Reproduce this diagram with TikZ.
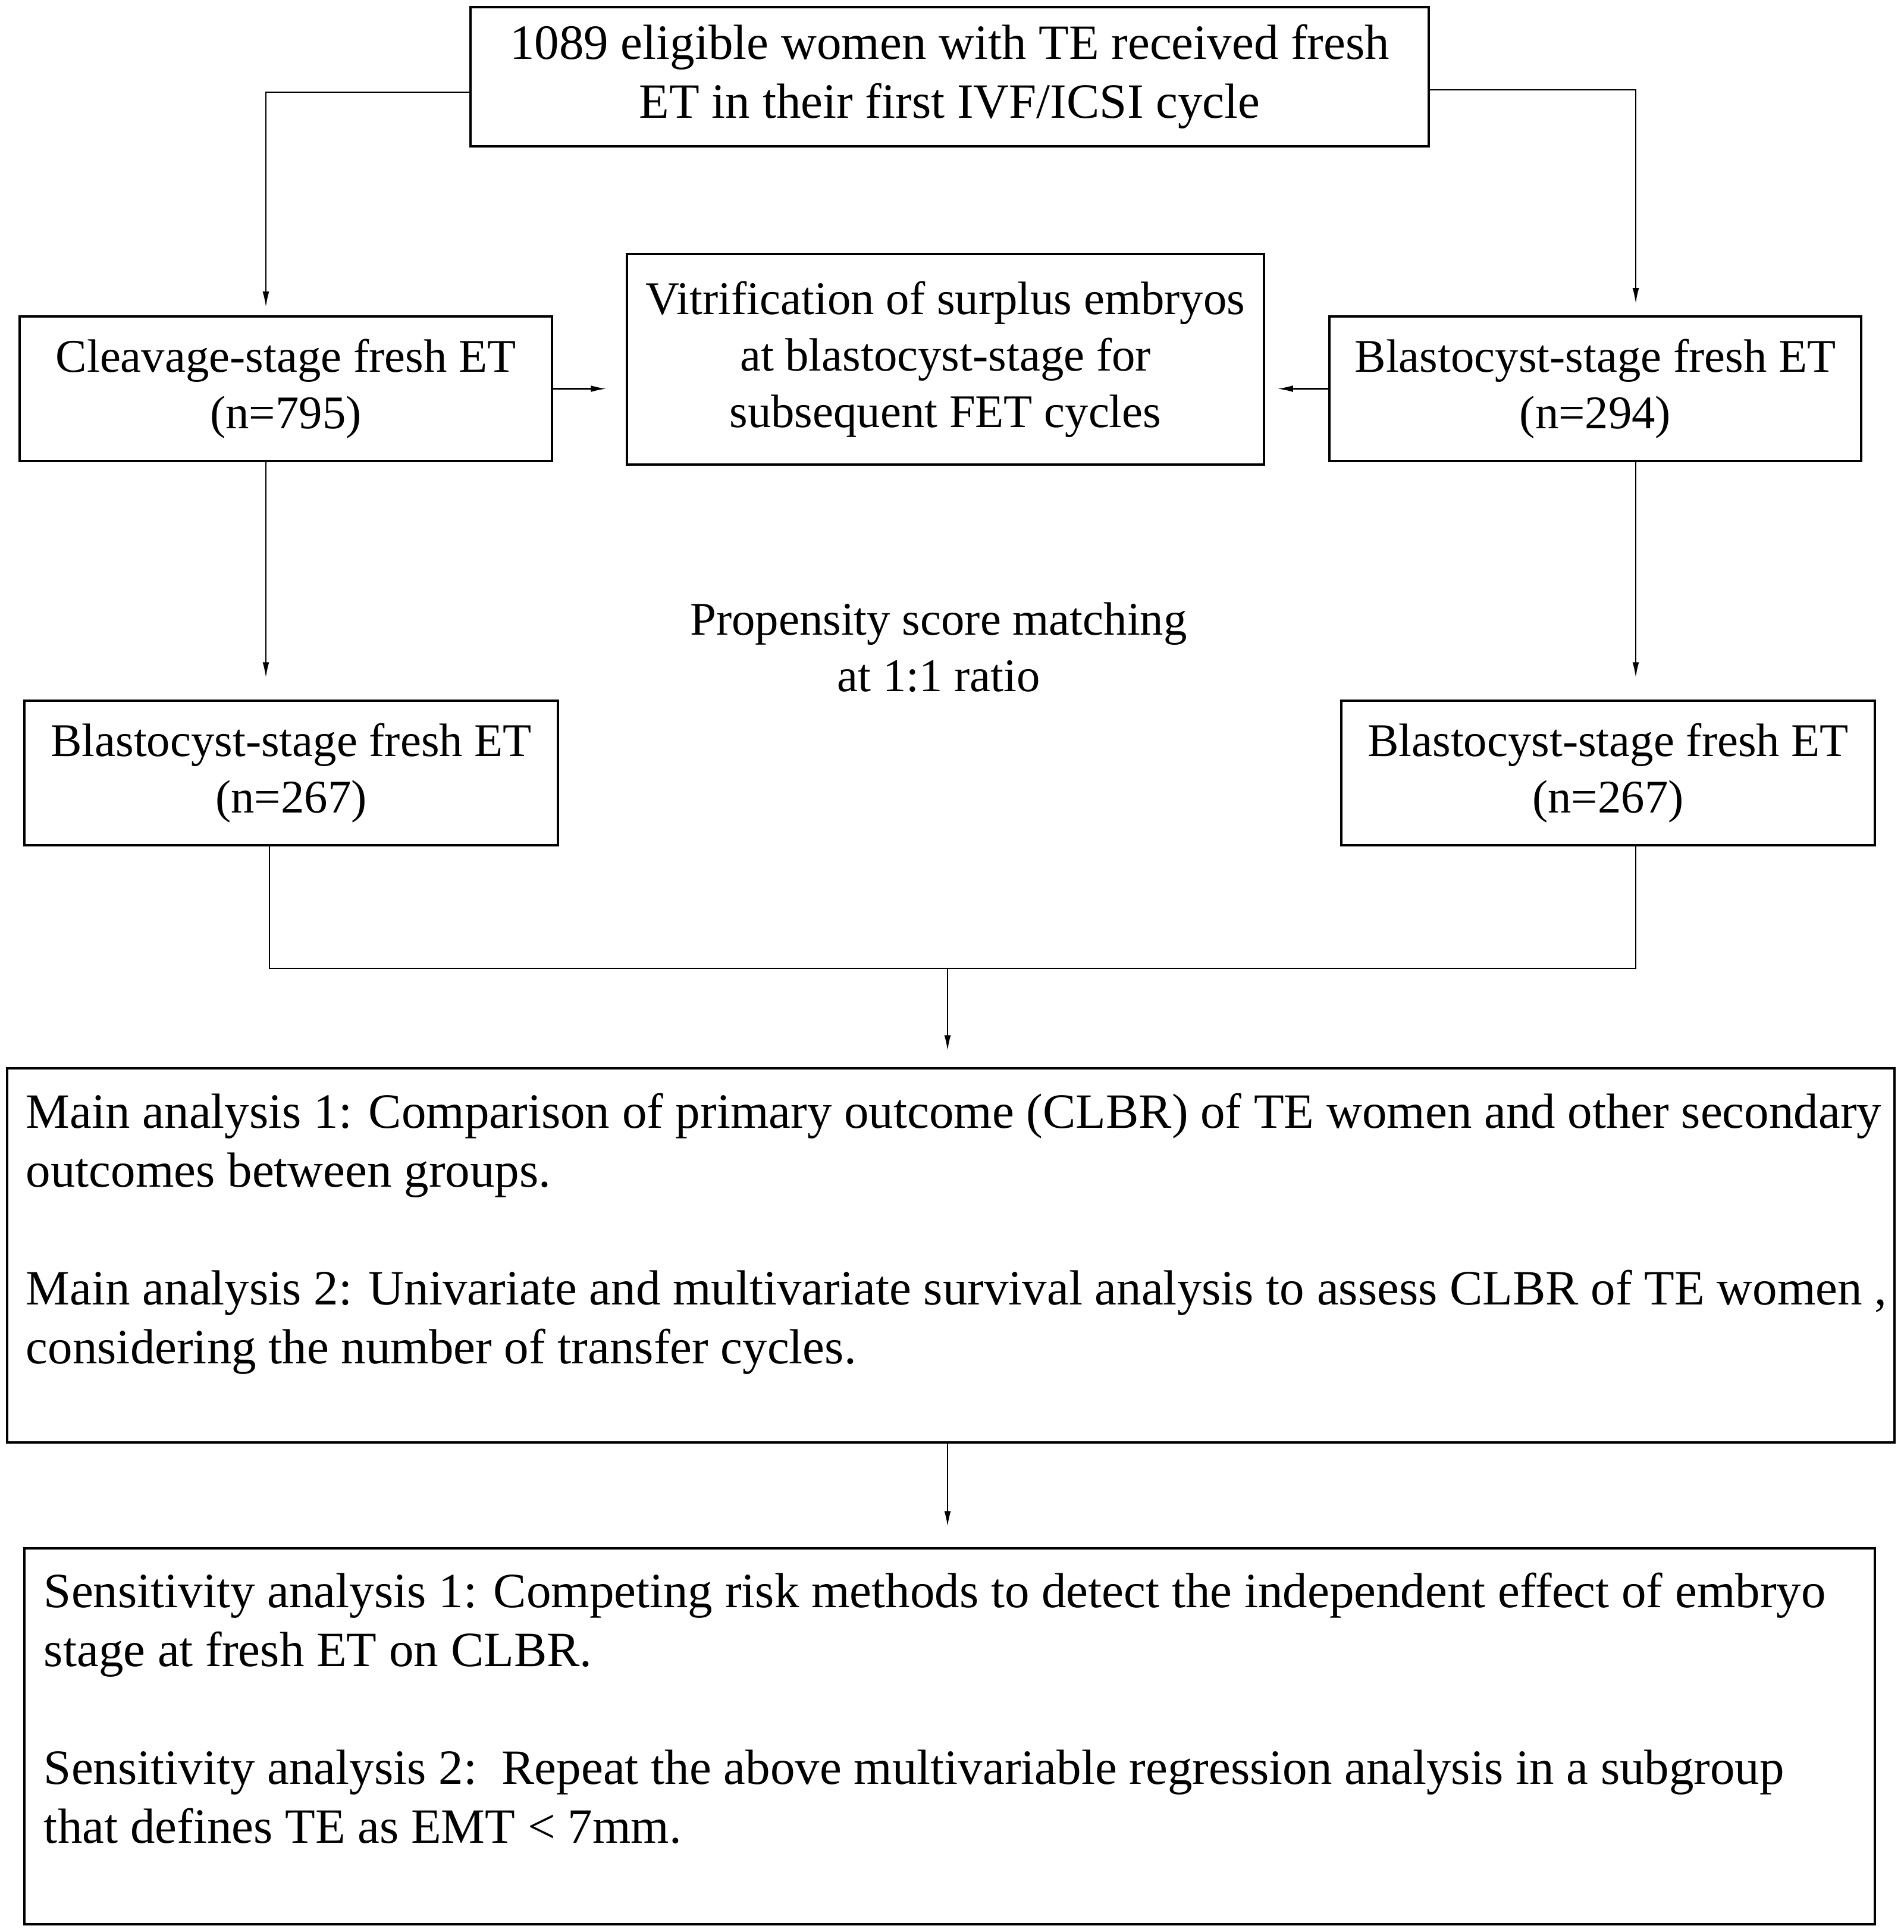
\documentclass[tikz,border=0pt]{standalone}
\usepackage{fontspec}
\setmainfont{Liberation Serif}
\usetikzlibrary{arrows.meta,positioning}
\begin{document}
\begin{tikzpicture}[
        every node/.style={font=\fontsize{23.6}{28.2}\selectfont},
        small/.style={font=\fontsize{22.4}{27}\selectfont},
        stagebox/.style={draw,line width=1pt,inner sep=0pt,align=center},
        panel/.style={draw,line width=1pt,inner sep=0pt},
        arr/.style={line width=0.6pt,-{Latex[length=0.26cm,width=0.11cm]}},
        link/.style={line width=0.6pt}
    ]
        \useasboundingbox (0,0) rectangle (32,-32.48);
        % columns of the side arrows
        \coordinate (colL) at (4.47,0);
        \coordinate (colLb) at (4.53,0);
        \coordinate (colR) at (27.5,0);
        \coordinate (join) at (15.93,-16.28);
        % boxes
        \node[stagebox,minimum width=16.11cm,minimum height=2.34cm] (top) at (15.965,-1.29)
            {1089 eligible women with TE received fresh\\ET in their first IVF/ICSI cycle};
        \node[stagebox,small,minimum width=8.95cm,minimum height=2.43cm] (cleav) at (4.805,-6.535)
            {Cleavage-stage fresh ET\\(n=795)};
        \node[stagebox,small,minimum width=10.71cm,minimum height=3.54cm] (vitri) at (15.895,-6.04)
            {Vitrification of surplus embryos\\at blastocyst-stage for\\subsequent FET cycles};
        \node[stagebox,small,minimum width=8.94cm,minimum height=2.43cm] (blast) at (26.82,-6.535)
            {Blastocyst-stage fresh ET\\(n=294)};
        \node[stagebox,small,minimum width=8.97cm,minimum height=2.43cm] (matchL) at (4.895,-12.995)
            {Blastocyst-stage fresh ET\\(n=267)};
        \node[stagebox,small,minimum width=8.97cm,minimum height=2.43cm] (matchR) at (27.035,-12.995)
            {Blastocyst-stage fresh ET\\(n=267)};
        \node[small,align=center] (psm) at (15.78,-10.88) {Propensity score matching\\at 1:1 ratio};
        \node[panel,minimum width=31.73cm,minimum height=6.29cm] (main) at (15.985,-21.105) {};
        \node[anchor=north west,inner sep=0pt,align=left] (maintext) at ([shift={(0.33,-0.43)}]main.north west)
            {Main analysis 1: Comparison of primary outcome (CLBR) of TE women and other secondary\\
             outcomes between groups.\\[28.2pt]
             Main analysis 2: Univariate and multivariate survival analysis to assess CLBR of TE women ,\\
             considering the number of transfer cycles.};
        \node[panel,minimum width=31.11cm,minimum height=6.32cm] (sens) at (15.965,-29.19) {};
        \node[anchor=north west,inner sep=0pt,align=left] (senstext) at ([shift={(0.34,-0.42)}]sens.north west)
            {Sensitivity analysis 1: Competing risk methods to detect the independent effect of embryo\\
             stage at fresh ET on CLBR.\\[28.2pt]
             Sensitivity analysis 2:\ \ Repeat the above multivariable regression analysis in a subgroup\\
             that defines TE as EMT < 7mm.};
        % connectors
        \draw[arr,shorten >=0.14cm] ([yshift=-0.26cm]top.west) -| (colL |- cleav.north);
        \draw[arr,shorten >=0.2cm] ([yshift=-0.22cm]top.east) -| (colR |- blast.north);
        \draw[arr,shorten >=0.33cm] (cleav.east) -- (cleav.east -| vitri.west);
        \draw[arr,shorten >=0.21cm] (blast.west) -- (blast.west -| vitri.east);
        \draw[arr,shorten >=0.37cm] (colL |- cleav.south) -- (colL |- matchL.north);
        \draw[arr,shorten >=0.37cm] (colR |- blast.south) -- (colR |- matchR.north);
        \draw[link] (colLb |- matchL.south) |- (join) -| (colR |- matchR.south);
        \draw[arr,shorten >=0.28cm] (join) -- (join |- main.north);
        \draw[arr,shorten >=0.35cm] (join |- main.south) -- (join |- sens.north);
    \end{tikzpicture}
\end{document}
